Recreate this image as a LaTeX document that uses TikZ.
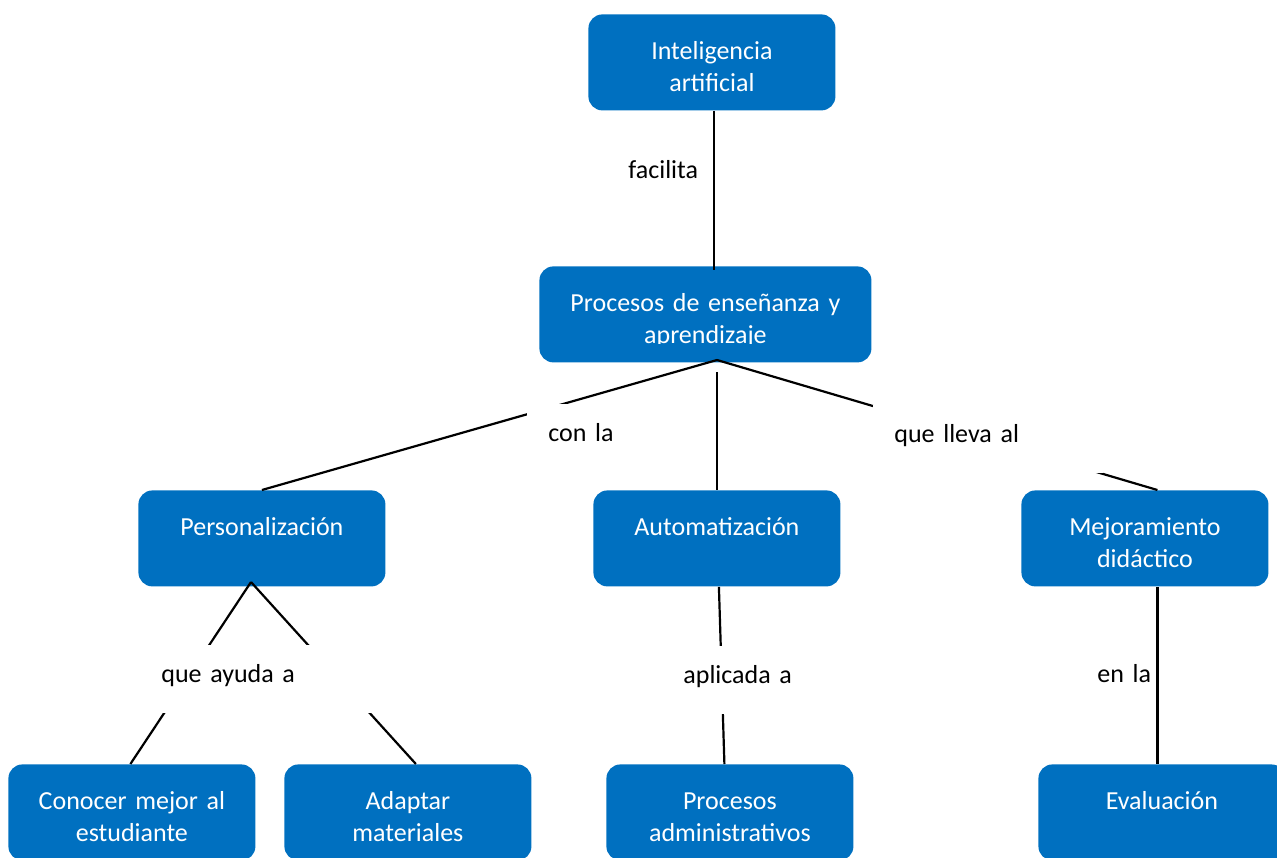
\documentclass[tikz,border=0pt]{standalone}
\usepackage{fontspec}
\setmainfont[WordSpace=0.8]{Carlito}
\usepackage{trimclip}
\usetikzlibrary{positioning, calc}

\definecolor{azul}{HTML}{0070C0}

\tikzset{
  caja/.style={anchor=north west, fill=azul, text=white, rounded corners=7pt,
    inner xsep=4pt, inner ysep=0pt, text width=#1, align=center,
    text height=22.5pt, text depth=25.5pt},
  caja/.default=115.5pt,
  enlace/.style={anchor=north west, fill=white, inner xsep=10.5pt, inner ysep=0pt,
    text width=#1, align=left, text height=18.5pt, text depth=15.5pt},
  conector/.style={line width=1.1pt}
}

\begin{document}
\begin{tikzpicture}[x=0.5pt, y=-0.5pt, font=\fontsize{13}{16}\selectfont]
    \useasboundingbox (0,0) rectangle (1277,857);

    % Conceptos
    \node[caja] (ia) at (588,14) {Inteligencia\\artificial};
    \node[caja=158pt] (proc) at (539,266) {Procesos de enseñanza y\\\clipbox{0pt {\depth} 0pt 0pt}{aprendizaje}};
    \node[caja] (pers) at (138,490) {Personalización};
    \node[caja] (auto) at (593,490) {Automatización};
    \node[caja] (mejora) at (1021,490) {Mejoramiento\\didáctico};
    \node[caja] (conocer) at (8,764) {Conocer mejor al\\estudiante};
    \node[caja] (adaptar) at (284,764) {Adaptar\\materiales};
    \node[caja] (admin) at (606,764) {Procesos\\administrativos};
    \node[caja] (eval) at (1038,764) {Evaluación};

    % Puntos de salida
    \coordinate (vproc) at (717,360);
    \coordinate (vpers) at (251,582);

    % Conectores
    \draw[conector] ([xshift=1pt]ia.south) -- ([xshift=1pt,yshift=-2pt]ia.south |- proc.north);
    \draw[conector] (vproc) -- (pers.north);
    \draw[conector] ([yshift=-6pt]vproc) -- (vproc |- auto.north);
    \draw[conector] (vproc) -- ([xshift=6.25pt]mejora.north);
    \draw[conector] (vpers) -- ([xshift=-0.75pt]conocer.north);
    \draw[conector] (vpers) -- ([xshift=4pt]adaptar.north);
    \draw[conector] ([xshift=1pt]auto.south) -- ([xshift=-2.75pt]admin.north);
    \draw[conector] ([xshift=6.25pt]mejora.south) -- ([xshift=6.25pt]mejora.south |- eval.north);

    % Enlaces
    \node[enlace=40pt, fill=none] (facilita) at (607,141) {facilita};
    \node[enlace=54pt] (conla) at (527,404) {con la};
    \node[enlace=94pt] (llevaal) at (873,405) {que lleva al};
    \node[enlace=96.5pt] (ayuda) at (140,645) {que ayuda a};
    \node[enlace=80pt] (aplicada) at (662,646) {aplicada a};
    \node[enlace=30pt, fill=none] (enla) at (1076,645) {en la};
\end{tikzpicture}
\end{document}
